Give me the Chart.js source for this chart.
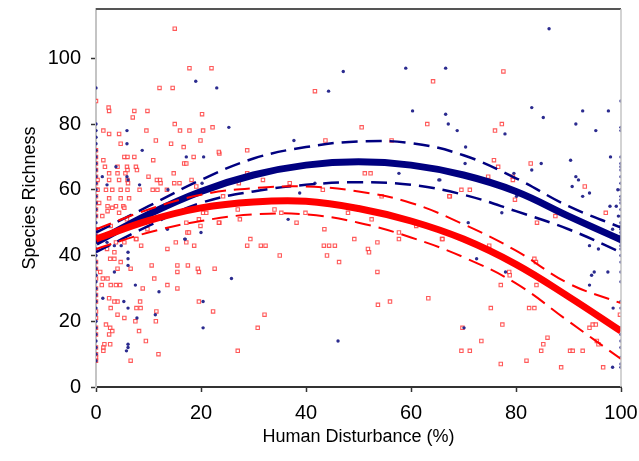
<!DOCTYPE html>
<html>
<head>
<meta charset="utf-8">
<script src="https://cdn.jsdelivr.net/npm/chart.js@4.4.0/dist/chart.umd.min.js"></script>
<style>
  html,body{margin:0;padding:0;background:#fff;}
  #wrap{width:639px;height:461px;}
</style>
</head>
<body>
<div id="wrap"><canvas id="c" width="639" height="461"></canvas></div>
<script>
// fitted curves, read at x = 0,10,...,100
const FIT_X = [0,10,20,30,40,50,60,70,80,90,100];
const BLUE_FIT   = [44,52.5,59.5,64.5,67.5,68.5,67.5,64.5,59.5,52,44.8];
const BLUE_UPPER = [47,55,63,69.5,73,74.7,74.2,70.5,63.5,55,48.5];
const BLUE_LOWER = [41,49,56,59.5,61.5,62.3,61.5,58.5,53.5,48,41];
const RED_FIT    = [45,50.6,54.5,56.3,56.5,54.3,50.5,45,37.3,27.5,17];
const RED_UPPER  = [48,54,58.5,60.5,61,59.5,56,49.5,41.5,31.5,25.5];
const RED_LOWER  = [42,47,50.5,52.5,52.5,50,45.5,39.5,31.5,20,8.5];

const X_TICKS = [0,20,40,60,80,100];
const Y_TICKS = [0,20,40,60,80,100];

// observed points (x, y)
const RED_ZERO_Y = [87,72,70,68,66,64,62,60,58,56,54,52,48,46,38,36,33,30,28,26,23,21,18,16,12,10,9,8];
const RED_PTS = [
  [15,109],[17.8,97],[22,97],[12.1,91],[14.6,91],
  [2.4,85],[2.5,84],[7.3,84],[9.8,84],[7,82],[15,80],[1.4,78],[2.5,77],[4.4,77],[9.6,78],[16,78],[17.8,78],[20.4,78],[22.2,79],[20.2,83],
  [4.7,74],[11.4,75],[14.3,74],[16.7,73],[19.9,75],[23.5,71],[28.8,72],[1.4,69],[5.4,70],[6,70],[7.3,70],[10.9,69],[18.6,70],[14.8,65],[16.8,68],[17.2,68],
  [1.7,67],[4.1,67],[5.9,67],[7.6,67],[6,66],[7.8,66],[2.5,65],[4.1,65],[5.6,65],[28.8,65],[10,64],[0.3,63],[2.5,63],[4.4,63],[6,63],[11.6,63],[12.2,63],[18.2,63],[31.8,63],
  [14.9,62],[6.1,62],[15.9,62],[12.3,62],[19.1,61],[27.2,62],[0.3,60],[1.9,60],[3.1,60],[4.7,60],[6,60],[8.3,60],[10.8,60],[11.7,60],[13.5,60],
  [2.5,57.4],[4.7,57.4],[6.3,57.4],[24.2,58],[2.2,55],[3.8,55],[5.2,55],
  [0.6,56],[2.2,53.5],[3.1,54.5],[5.4,54.5],[1.2,52],[4.4,53],[2.8,49],[5.9,51],[7.6,45],[9.8,48],[15.2,44],[13.6,42],[5.4,44],[3.8,44],[2.1,42],[17.4,47],[18.7,43],
  [3.5,41],[2.7,39],[3.5,39],[4.7,38],[10.6,37],[15.5,37],[6.6,36],[4.1,36],[0.8,35],[1.3,33],[1.1,31],[2.2,33],[2.8,31],[3.8,31],[4.6,31],[11.1,33],[15.5,35],[13.6,31],
  [19.4,36],[17.5,37],[22.6,36],[19.6,35],[15.5,30],[8.9,30],[20.4,53],[21,53],[27.4,51],[23.5,50],[19.6,51],[17.2,50],[19.9,49],[17.7,47],[17.2,44],[8.6,43],[7.7,45],
  [19.6,26],[8.4,26],[7.7,24],[8.5,24],[11.5,23],[22.3,23],[32.1,22],[30.8,18],[27,11],
  [2.5,27],[2.8,24],[4.1,26],[3.5,26],[4.1,22],[5.4,21],[11.4,20],[7.5,20],[1.9,19],[2.7,18],[3.1,17],[2.5,16],[8.2,17],[9.5,14],[1.6,13],[2.7,13],[1.4,12],[1.4,11],[11.9,10],[6.6,8],
  [27,54],[34,54],[35.3,53],[39.9,53],[23.4,50],[38.2,50],[29.4,45],[28.8,43],[31.4,43],[32.3,43],[36.9,62],[23.4,71.5],
  [41.7,90],[64.2,93],[50.6,79],[63.1,80],[43.7,75],[56.3,75],[51.2,65],[52.3,65],[43.2,60],[54.4,58],[67.4,58],[69.6,60],[71.2,60],[48,53],[52.5,51],[43.5,48],
  [43.4,43],[44.4,43],[45.5,43],[44,40],[46.3,38],[49.2,45],[51.8,42],[52,41],[53.6,44],[57.7,47],[57.7,45],[61,49],[65.9,45],[53.6,35],[56,26],[53.7,25],[63.3,27],
  [69.8,18],[69.6,11],[71.2,11],[35,40],
  [97.1,53],[87.5,52],[84,50],[66,45],[74.9,43],[78.7,35],[78.8,34],[83.5,39],[83.8,38],[77.1,31],[83.9,31],[75.2,24],[82.5,24],[83.5,24],[77.4,19],[73.4,14],[77.1,7],[82,8],
  [86,15],[85.2,13],[84.8,11],[88.6,6],[90.3,11],[90.8,11],[92.7,11],[94,18],[94.6,19],[95.2,19],[95.4,14],[95.7,13],[96.6,6],[99.8,22],
  [77.6,96],[77.3,80],[76,78],[75.8,69],[76.6,67],[82.8,68],[74.7,64],[79.4,64],[79.4,63],[67.3,58],[93.1,61],[79.8,57]
];
const BLUE_ZERO_Y = [91,80,78,76,74,72,70,68,66,64,62,60,58,56,54,52,50,48,46,44,42,40,38,36,34,32,30,28,26,24,22,20,18,16,14,12,10,8];
const BLUE_HUNDRED_Y = [87,79,78,70,68,67,66,64,62,60,58,57,56,54,52,50,49,48,47,46,45,44,43,42,40,38,35,32,26,24,18,16,14,12,9,7,6];
const BLUE_PTS = [
  [19,93],[23,91],[25.3,79],[5.9,78],[5.9,74],[8.8,72],[17.2,70],[20.5,70],[3.8,67],[1.2,64],[5.9,64],[6.1,63],[2.1,61.5],[8.3,61.5],[20.2,62],[13.7,60],
  [47.1,96],[59,97],[66.6,97],[44.3,90],[60.3,84],[66.6,83],[67.1,80],[68.8,78],[70.4,73],[70.3,68],[37.7,75],[57.7,65],[65.3,63],[41.7,62],[38.8,59],
  [86.3,109],[83,85],[85.2,82],[92.7,84],[97.6,84],[77.9,77],[91.4,80],[95.2,78],[98,70],[84.8,68],[83,66],[90.4,69],[79.6,65],[91.4,64],[91.9,63],[90.7,61],
  [94,59],[92.7,58],[80.1,58],[99.4,60],[65.5,63],[97.9,55],[99.1,55],[99.5,52],[98.4,48],[94,43],[95.7,42],[94.4,34],[94.9,35],[97.5,35],[94,31],[98.5,24],[98.4,6],
  [77.3,53],[70.9,50],[72.5,39],[78,35],[70.1,18],[36.6,51],[46.1,14],
  [2.1,44],[6.1,41],[6.1,39],[6.1,37],[7.5,31],[12,29],[5.3,26],[6.1,24],[7.8,21],[11.3,22],[6.1,13],[6.1,12],[5.8,11],[13.6,48],[17,45],[20,47],[20.4,26],[20.4,18],
  [25.8,33],[1.3,27],[3.5,35],[3.5,43],[4.8,43],[16.9,45]
];

function pts(arr){ return arr.map(p=>({x:p[0],y:p[1]})); }
function col(x, ys){ return ys.map(y=>({x:x,y:y})); }
function curve(ys){ return FIT_X.map((x,i)=>({x:x,y:ys[i]})); }

const FONT = "'Liberation Sans', Arial, sans-serif";
const NAVY = '#000080';
const RED = '#ff0000';

function lineDs(ys, color, width, dash, order){
  return {type:'line', data:curve(ys), borderColor:color, borderWidth:width, borderDash:dash||[],
    pointRadius:0, fill:false, tension:0.4, order:order, borderCapStyle:'butt'};
}

// top and right frame lines
const framePlugin = {
  id:'frame',
  afterDraw(chart){
    const a = chart.chartArea, ctx = chart.ctx;
    ctx.save();
    ctx.strokeStyle = '#555'; ctx.lineWidth = 2;
    ctx.beginPath(); ctx.moveTo(a.left, a.top); ctx.lineTo(a.right, a.top); ctx.stroke();
    ctx.strokeStyle = '#c4c4c4'; ctx.lineWidth = 1.5;
    ctx.beginPath(); ctx.moveTo(a.right, a.top); ctx.lineTo(a.right, a.bottom); ctx.stroke();
    ctx.restore();
  }
};

function noEdgePad(s){ s.paddingTop = 0; s.paddingBottom = 0; s.paddingLeft = 0; s.paddingRight = 0; }

new Chart(document.getElementById('c'), {
  type:'scatter',
  data:{datasets:[
    lineDs(RED_FIT, RED, 7, [], 0),
    lineDs(RED_UPPER, RED, 2, [16,8], 1),
    lineDs(RED_LOWER, RED, 2, [16,8], 1),
    lineDs(BLUE_FIT, NAVY, 7, [], 2),
    lineDs(BLUE_UPPER, NAVY, 2.5, [16,8], 3),
    lineDs(BLUE_LOWER, NAVY, 2.5, [16,8], 3),
    {data: col(0, BLUE_ZERO_Y).concat(col(100, BLUE_HUNDRED_Y), pts(BLUE_PTS)), pointRadius:1.7, pointStyle:'circle',
      backgroundColor:'#2b2b8f', borderColor:'#2b2b8f', borderWidth:0, order:4},
    {data: col(0, RED_ZERO_Y).concat(pts(RED_PTS)), pointRadius:2.4, pointStyle:'rect',
      backgroundColor:'rgba(255,255,255,0.6)', borderColor:'rgba(255,60,60,0.85)', borderWidth:1.1, order:5}
  ]},
  options:{
    responsive:false, animation:false,
    layout:{padding:{top:9, right:18, left:0, bottom:0}},
    plugins:{legend:{display:false}, tooltip:{enabled:false}},
    scales:{
      x:{type:'linear', min:0, max:100,
        afterBuildTicks:s=>{ s.ticks = X_TICKS.map(v=>({value:v})); },
        afterFit:s=>{ s.height = 74; noEdgePad(s); },
        grid:{display:true, drawOnChartArea:false, drawTicks:true, tickLength:5, tickColor:'#333', tickWidth:1.5},
        border:{color:'#333', width:2},
        ticks:{color:'#000', font:{family:FONT, size:20}, padding:9, maxRotation:0},
        title:{display:true, text:'Human Disturbance (%)', color:'#000', font:{family:FONT, size:18}, padding:{top:0, bottom:13}}
      },
      y:{type:'linear', min:0, max:115,
        afterBuildTicks:s=>{ s.ticks = Y_TICKS.map(v=>({value:v})); },
        afterFit:s=>{ s.width = 96; noEdgePad(s); },
        grid:{display:true, drawOnChartArea:false, drawTicks:true, tickLength:5, tickColor:'#333', tickWidth:1.5},
        border:{color:'#c4c4c4', width:2},
        ticks:{color:'#000', font:{family:FONT, size:20}, padding:10},
        title:{display:true, text:'Species Richness', color:'#000', font:{family:FONT, size:18}, padding:{top:19, bottom:0}}
      }
    }
  },
  plugins:[framePlugin]
});
</script>
</body>
</html>
